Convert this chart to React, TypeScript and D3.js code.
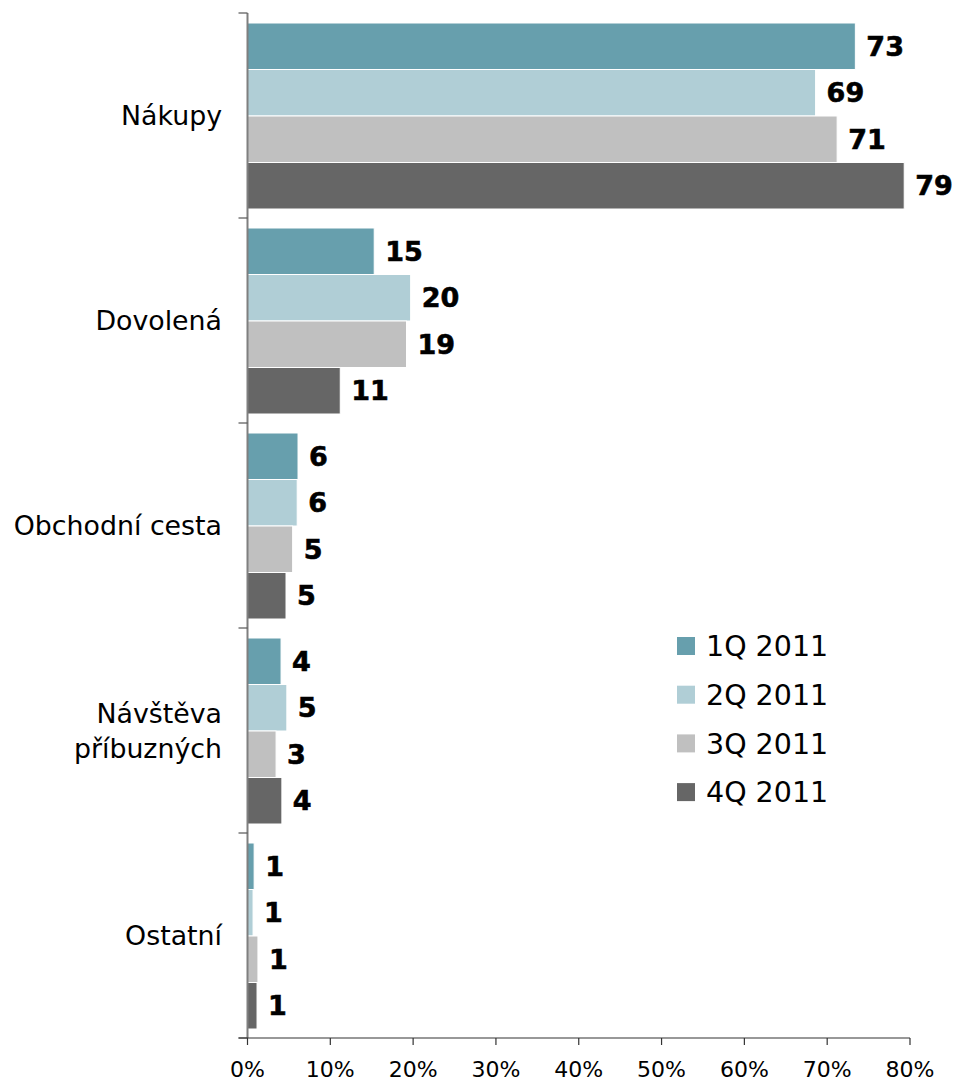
import React, { useEffect } from 'react';
import * as d3 from 'd3';

// kategorie (shora dolů)
const categories = ['Nákupy', 'Dovolená', 'Obchodní cesta', 'Návštěva\npříbuzných', 'Ostatní'];
const seriesNames = ['1Q 2011', '2Q 2011', '3Q 2011', '4Q 2011'];
const seriesColors = ['#679fad', '#b0ced6', '#c0c0c0', '#666666'];

// hodnoty v %
const q1 = [73.4, 15.3, 6.1, 4.05, 0.8];
const q2 = [68.6, 19.7, 6.0, 4.75, 0.67];
const q3 = [71.2, 19.2, 5.45, 3.45, 1.26];
const q4 = [79.3, 11.2, 4.65, 4.15, 1.15];

const xTicks = [0, 10, 20, 30, 40, 50, 60, 70, 80];

const W = 953;
const H = 1082;
const left = 247.5;
const right = 910;
const top = 13;
const bottom = 1038;

export default function App() {
	useEffect(() => {
		document.body.style.margin = '0';
	}, []);

	const series = [q1, q2, q3, q4];

	const x = d3.scaleLinear().domain([0, 80]).range([left, right]);
	const y = d3.scaleBand<string>().domain(categories).range([top, bottom]).padding(0);
	const inner = d3
		.scaleBand<string>()
		.domain(seriesNames)
		.range([10, 196])
		.padding(0);

	const font = '"DejaVu Sans", Verdana, sans-serif';

	return (
		<svg width={W} height={H} style={{ display: 'block', fontFamily: font }}>
			{/* sloupce */}
			{categories.map((c, ci) => (
				<g key={c} transform={`translate(0, ${y(c)})`}>
					{series.map((s, si) => {
						const by = inner(seriesNames[si])!;
						const bh = inner.bandwidth();
						return (
							<g key={si}>
								<rect
									x={x(0)}
									y={by}
									width={x(s[ci]) - x(0)}
									height={bh}
									fill={seriesColors[si]}
									stroke="#ffffff"
									strokeWidth={1}
								/>
								<text
									x={x(s[ci]) + 11}
									y={by + bh / 2}
									dy="0.36em"
									fontSize={27}
									fontWeight="bold"
									fill="#000"
									stroke="#000"
									strokeWidth={0.6}
								>
									{Math.round(s[ci])}
								</text>
							</g>
						);
					})}
				</g>
			))}

			{/* osa y */}
			<line x1={left} x2={left} y1={top} y2={bottom} stroke="#7f7f7f" strokeWidth={2} />
			{categories.concat(['']).map((c, i) => {
				const ty = i < categories.length ? y(c)! : bottom;
				return <line key={'t' + i} x1={left - 9} x2={left} y1={ty} y2={ty} stroke="#555" strokeWidth={1.2} />;
			})}
			{categories.map(c => {
				const lines = c.split('\n');
				const cy = y(c)! + y.bandwidth() / 2;
				return (
					<text key={c} textAnchor="end" fontSize={26.8} fill="#000">
						{lines.map((l, li) => (
							<tspan key={li} x={222} y={cy + (li - (lines.length - 1) / 2) * 35} dy="0.36em">
								{l}
							</tspan>
						))}
					</text>
				);
			})}

			{/* osa x */}
			<line x1={left - 9} x2={right} y1={bottom} y2={bottom} stroke="#333" strokeWidth={1.2} />
			{xTicks.map(t => (
				<g key={t}>
					<line x1={x(t)} x2={x(t)} y1={bottom} y2={bottom + 7} stroke="#333" strokeWidth={1.2} />
					<text x={x(t)} y={1077} textAnchor="middle" fontSize={22} fill="#000">
						{t}%
					</text>
				</g>
			))}

			{/* legenda */}
			{seriesNames.map((n, i) => (
				<g key={n} transform={`translate(677, ${646 + i * 48.7})`}>
					<rect x={0} y={-9} width={18} height={18} fill={seriesColors[i]} />
					<text x={29} y={0} dy="0.36em" fontSize={28.5} fill="#000">
						{n}
					</text>
				</g>
			))}
		</svg>
	);
}
